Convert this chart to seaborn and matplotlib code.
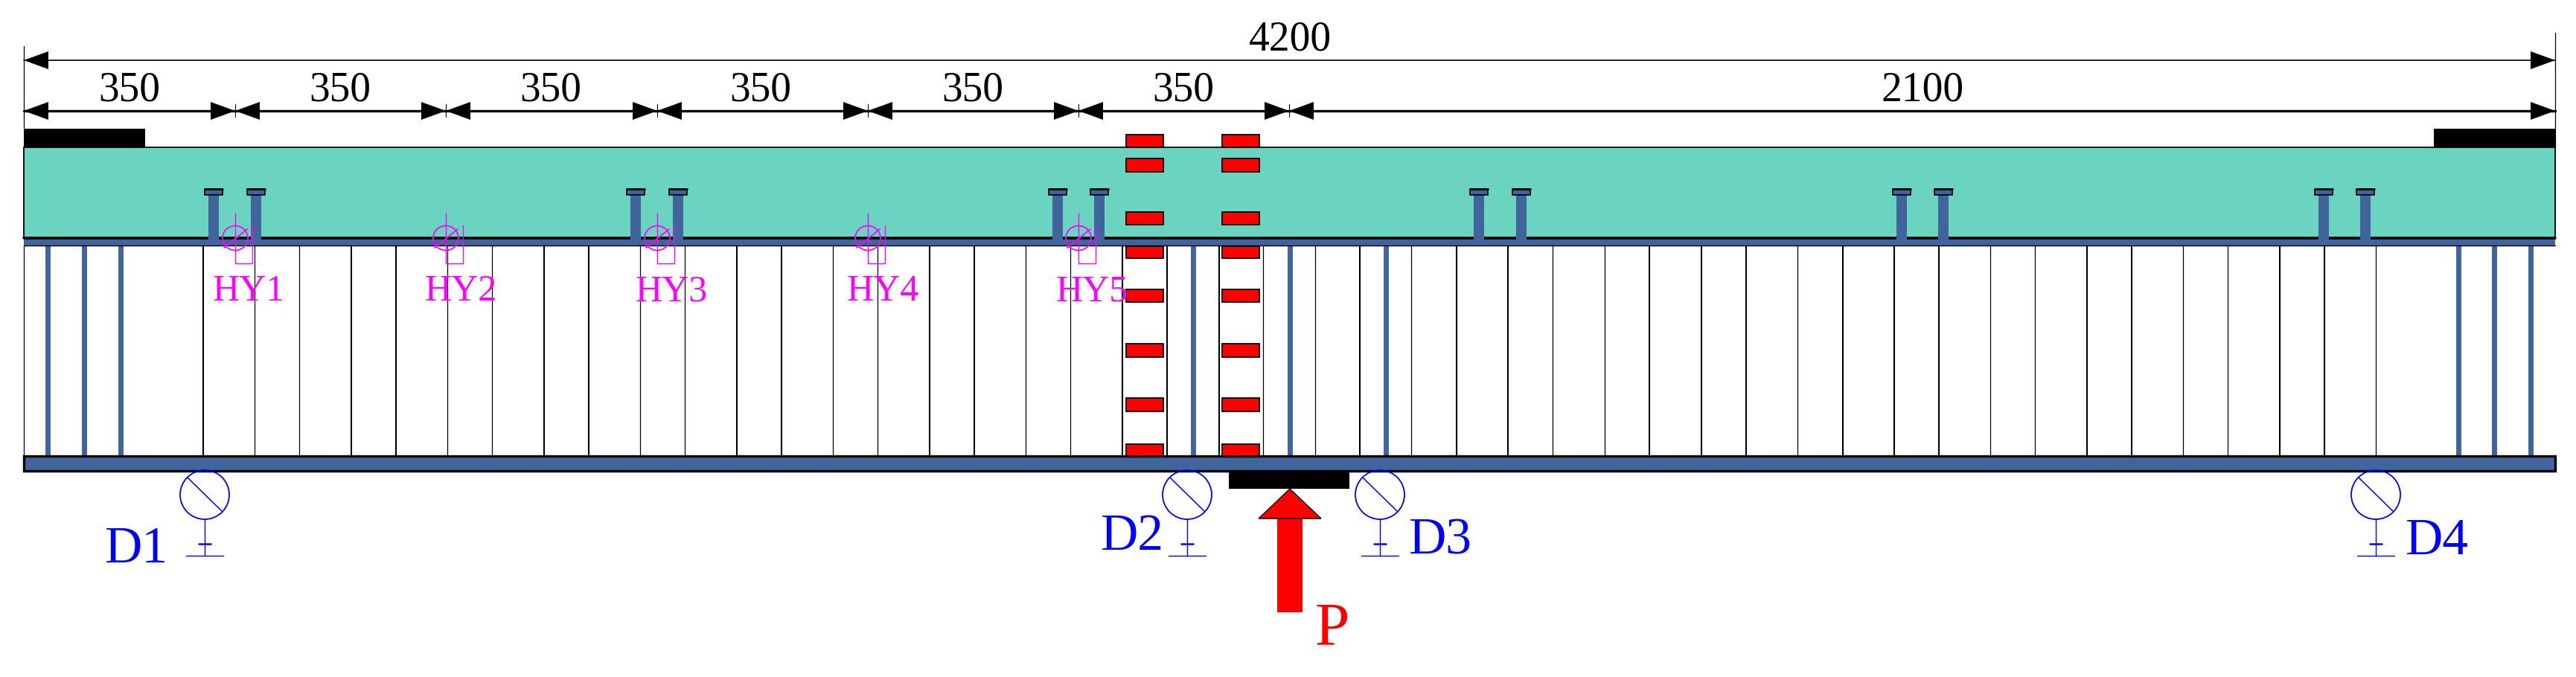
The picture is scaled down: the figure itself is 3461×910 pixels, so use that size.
import pandas as pd
import matplotlib.pyplot as plt
import seaborn as sns
from matplotlib.patches import Ellipse, Polygon, Rectangle

# everything, in picture pixels
left_edge, right_edge = 32, 3433
dim_breaks = [32, 316, 599, 883, 1166, 1449, 1732, 3433]
dim_labels = ['350', '350', '350', '350', '350', '350', '2100']
dim_label_x = [174, 457, 740, 1022, 1307, 1590, 2583]

web_thick = [273, 472, 532, 731, 791, 990, 1050, 1249, 1309, 1508, 1568, 1638, 1827,
             1957, 2026, 2216, 2286, 2346, 2476, 2545, 2605, 2804, 2864, 3063, 3123]
web_thin = [32, 342, 402, 601, 661, 860, 920, 1119, 1179, 1378, 1438, 1697, 1767, 1896,
            2086, 2156, 2415, 2674, 2734, 2933, 2993, 3192]
stiffeners = [64, 113, 162, 1603, 1733, 1862, 3303, 3351, 3400]
studs = [287, 344, 854, 911, 1421, 1477, 1987, 2044, 2555, 2611, 3122, 3178]

red_x = [1513, 1642]
red_top = [181, 213, 285, 331, 389, 462, 535, 597]
red_bottom = [198, 231, 302, 347, 406, 480, 553, 613]

hy_x = [316, 599, 883, 1166, 1449]
hy_names = ['HY1', 'HY2', 'HY3', 'HY4', 'HY5']
hy_label_x = [334, 619, 902, 1186, 1467]

d_x = [275, 1595, 1854, 3192]
d_names = ['D1', 'D2', 'D3', 'D4']
d_label_x = [183, 1521, 1935, 3274]
d_label_y = [739, 722, 728, 728]

TEAL = '#6AD4C1'
STEEL = '#3F659C'
MAGENTA = '#FF00FF'
BLUE = '#0000FF'


def vertical_lines(ax, xs, y0, y1, color, width):
    df = pd.DataFrame({
        'x': [x for x in xs for _ in (0, 1)],
        'y': [y for _ in xs for y in (y0, y1)],
        'line': [i for i, _ in enumerate(xs) for _ in (0, 1)],
    })
    sns.lineplot(data=df, x='x', y='y', units='line', estimator=None, sort=False,
                 color=color, linewidth=width, ax=ax, legend=False, zorder=3)


def arrow_head(ax, tip, base, y):
    ax.add_patch(Polygon([(tip, y), (base, y - 12), (base, y + 12)], color='black', lw=0, zorder=6))


if __name__ == "__main__":
    sns.set_theme(style='white')
    plt.rcParams['font.family'] = ['Liberation Serif', 'DejaVu Serif']

    fig, ax = plt.subplots(figsize=(34.62, 9.10), dpi=100)
    ax.set_position([0, 0, 1, 1])
    ax.axis('off')

    # slab and plates
    ax.add_patch(Rectangle((left_edge, 198), right_edge - left_edge, 122, fc=TEAL, ec='black', lw=1.3, zorder=1))
    ax.add_patch(Rectangle((left_edge, 173), 163, 25, color='black', lw=0, zorder=2))
    ax.add_patch(Rectangle((3270, 173), 163, 25, color='black', lw=0, zorder=2))
    ax.add_patch(Rectangle((1651, 633), 162, 24, color='black', lw=0, zorder=2))

    # webs
    vertical_lines(ax, web_thick, 330, 613, 'black', 1.5)
    vertical_lines(ax, web_thin, 330, 613, 'black', 0.9)
    vertical_lines(ax, stiffeners, 330, 613, STEEL, 5)

    # steel flanges
    ax.add_patch(Rectangle((left_edge, 320), right_edge - left_edge, 10, fc=STEEL, ec='none', zorder=4))
    ax.plot([left_edge, right_edge], [320, 320], color='black', lw=2.6, zorder=4)
    ax.plot([left_edge, right_edge], [330, 330], color='black', lw=1, zorder=4)
    ax.add_patch(Rectangle((left_edge, 613), right_edge - left_edge, 20, fc=STEEL, ec='black', lw=2.4, zorder=4))

    # studs
    for x in studs:
        ax.add_patch(Rectangle((x - 7, 260), 14, 66, fc=STEEL, ec='none', zorder=5))
        ax.add_patch(Rectangle((x - 12, 254), 24, 8, fc=STEEL, ec='black', lw=1.2, zorder=5))
        ax.plot([x - 12, x + 12], [254, 254], color='black', lw=2, zorder=5)

    # red blocks
    for x in red_x:
        for top, bottom in zip(red_top, red_bottom):
            ax.add_patch(Rectangle((x, top), 50, bottom - top, fc='#FF0000', ec='black', lw=1.3, zorder=5))

    # dimensions
    ax.plot([left_edge, right_edge], [81, 81], color='black', lw=1.2, zorder=5)
    ax.plot([left_edge, right_edge], [149, 149], color='black', lw=2.4, zorder=5)
    ax.plot([left_edge, left_edge], [62, 172], color='black', lw=0.9, zorder=5)
    ax.plot([right_edge, right_edge], [44, 198], color='black', lw=0.9, zorder=5)
    arrow_head(ax, left_edge, left_edge + 33, 81)
    arrow_head(ax, right_edge, right_edge - 33, 81)
    for i, x in enumerate(dim_breaks):
        if i > 0:
            arrow_head(ax, x, x - 33, 149)
        if i < len(dim_breaks) - 1:
            arrow_head(ax, x, x + 33, 149)
        if 0 < i < len(dim_breaks) - 1:
            ax.plot([x, x], [140, 157], color='black', lw=0.8, zorder=6)
    for x, label in zip(dim_label_x, dim_labels):
        ax.text(x, 121, label, ha='center', va='center', fontsize=40, color='black')
    ax.text(1733, 53, '4200', ha='center', va='center', fontsize=40, color='black')

    # HY gauges
    for x, lx, name in zip(hy_x, hy_label_x, hy_names):
        ax.add_patch(Ellipse((x, 320), 34, 33, fc='none', ec=MAGENTA, lw=1.3, zorder=7))
        ax.plot([x, x, x + 23, x + 23], [286, 354, 354, 303], color=MAGENTA, lw=1, zorder=7)
        ax.plot([x - 15, x + 16], [333, 308], color=MAGENTA, lw=1.3, zorder=7)
        ax.text(lx, 392, name, ha='center', va='center', fontsize=36, color=MAGENTA, zorder=7)

    # D dial gauges
    for x, lx, ly, name in zip(d_x, d_label_x, d_label_y, d_names):
        ax.add_patch(Ellipse((x, 665), 66, 66, fc='none', ec=BLUE, lw=1.3, zorder=7))
        ax.plot([x - 23, x + 23], [642, 687], color=BLUE, lw=1.1, zorder=7)
        ax.plot([x, x], [698, 747], color=BLUE, lw=1, zorder=7)
        ax.plot([x - 8, x + 8], [731, 731], color=BLUE, lw=1.8, zorder=7)
        ax.plot([x - 25, x + 25], [747, 747], color=BLUE, lw=1, zorder=7)
        ax.text(lx, ly, name, ha='center', va='center', fontsize=50, color=BLUE, zorder=7)

    # load arrow
    ax.add_patch(Rectangle((1716, 697), 34, 126, fc='#FF0000', ec='none', zorder=6))
    ax.add_patch(Polygon([(1733, 657), (1691, 697), (1775, 697)], fc='#FF0000', ec='black', lw=1, zorder=6))
    ax.text(1790, 847, 'P', ha='center', va='center', fontsize=60, color='#FF0000', zorder=7)

    ax.set_xlim(0, 3462)
    ax.set_ylim(910, 0)
    ax.set_xlabel('')
    ax.set_ylabel('')
    fig.savefig('out.png', dpi=100)
